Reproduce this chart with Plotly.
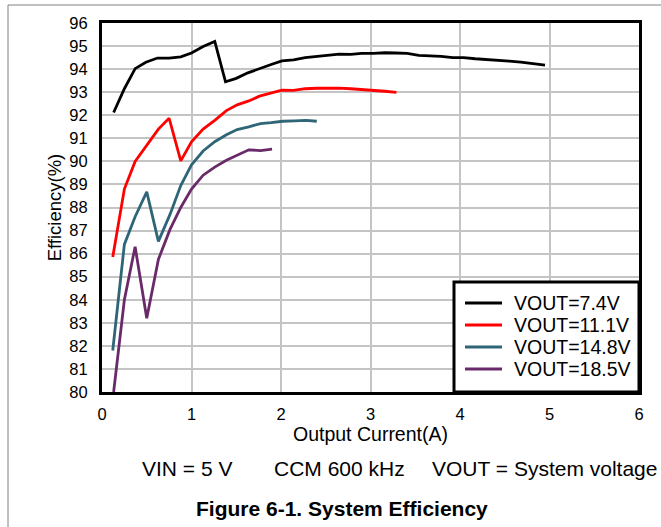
import plotly.graph_objects as go

# ---- data ----
series_names = ["VOUT=7.4V", "VOUT=11.1V", "VOUT=14.8V", "VOUT=18.5V"]
series_colors = ["#000000", "#ff0000", "#2e6577", "#6a2a6a"]

x_74 = [0.13, 0.25, 0.37, 0.49, 0.62, 0.75, 0.88, 1.0, 1.13, 1.26, 1.38, 1.5, 1.63, 1.76, 1.89,
        2.01, 2.14, 2.27, 2.4, 2.52, 2.65, 2.78, 2.9, 3.03, 3.16, 3.28, 3.41, 3.54, 3.66, 3.79,
        3.92, 4.04, 4.17, 4.3, 4.42, 4.55, 4.68, 4.81, 4.95]
y_74 = [92.12, 93.15, 94.02, 94.3, 94.48, 94.48, 94.53, 94.7, 94.98, 95.2, 93.45, 93.6, 93.84,
        94.03, 94.2, 94.36, 94.4, 94.5, 94.55, 94.6, 94.65, 94.64, 94.68, 94.68, 94.71, 94.7,
        94.68, 94.6, 94.58, 94.55, 94.5, 94.5, 94.45, 94.42, 94.38, 94.35, 94.3, 94.24, 94.17]

x_111 = [0.12, 0.25, 0.37, 0.5, 0.63, 0.75, 0.88, 1.0, 1.13, 1.26, 1.39, 1.51, 1.64, 1.76, 1.89,
         2.01, 2.14, 2.27, 2.4, 2.52, 2.65, 2.78, 2.9, 3.03, 3.16, 3.29]
y_111 = [85.85, 88.8, 90.0, 90.7, 91.4, 91.87, 90.02, 90.85, 91.4, 91.78, 92.2, 92.45, 92.62,
         92.83, 92.97, 93.09, 93.08, 93.15, 93.17, 93.18, 93.18, 93.15, 93.12, 93.08, 93.04, 92.99]

x_148 = [0.12, 0.25, 0.37, 0.5, 0.63, 0.76, 0.88, 1.0, 1.13, 1.26, 1.39, 1.51, 1.64, 1.77, 1.89,
         2.02, 2.15, 2.28, 2.4]
y_148 = [81.8, 86.4, 87.6, 88.68, 86.53, 87.7, 88.95, 89.85, 90.45, 90.85, 91.15, 91.38, 91.5,
         91.64, 91.68, 91.74, 91.76, 91.78, 91.74]

x_185 = [0.13, 0.25, 0.37, 0.5, 0.63, 0.76, 0.88, 1.0, 1.13, 1.26, 1.39, 1.51, 1.64, 1.77, 1.9]
y_185 = [80.0, 84.0, 86.3, 83.2, 85.75, 87.05, 88.0, 88.8, 89.4, 89.75, 90.05, 90.27, 90.5,
         90.47, 90.53]

x_ticks = [0, 1, 2, 3, 4, 5, 6]
y_ticks = list(range(80, 97))

x_title = "Output Current(A)"
y_title = "Efficiency(%)"
caption_parts = ["VIN = 5 V", "CCM 600 kHz", "VOUT = System voltage"]
figure_title = "Figure 6-1. System Efficiency"

# ---- figure ----
FONT = "Liberation Sans, Arial, sans-serif"
W, H = 661, 527
ML, MR, MT, MB = 102, 22, 23, 135
PW, PH = W - ML - MR, H - MT - MB


def px_x(p):
    return (p - ML) / PW


def px_y(p):
    return (H - MB - p) / PH


fig = go.Figure()
for xs, ys, name, col in zip([x_74, x_111, x_148, x_185], [y_74, y_111, y_148, y_185],
                             series_names, series_colors):
    fig.add_trace(go.Scatter(x=xs, y=ys, mode="lines", name=name,
                             line=dict(color=col, width=2.8), showlegend=False))

axis_common = dict(showline=True, mirror=True, linecolor="black", linewidth=3,
                   showgrid=True, gridcolor="#c4c4c4", gridwidth=1.5, zeroline=False,
                   ticks="", tickfont=dict(family=FONT, size=16.5, color="black"))

fig.update_xaxes(range=[0, 6], tickvals=x_ticks, ticktext=[str(v) for v in x_ticks],
                 ticklabelstandoff=5,
                 title=dict(text=x_title, font=dict(family=FONT, size=19.5, color="black"),
                            standoff=5),
                 **axis_common)
fig.update_yaxes(range=[80, 96], tickvals=y_ticks, ticktext=[str(v) for v in y_ticks],
                 ticklabelstandoff=8,
                 title=dict(text=y_title, font=dict(family=FONT, size=18.5, color="black"),
                            standoff=3),
                 **axis_common)

annotations = []
for txt, left in zip(caption_parts, [140, 272, 430]):
    annotations.append(dict(text=txt, xref="paper", yref="paper", x=px_x(left), y=px_y(469),
                            xanchor="left", yanchor="middle", showarrow=False,
                            font=dict(family=FONT, size=21, color="black")))
annotations.append(dict(text="<b>" + figure_title + "</b>", xref="paper", yref="paper",
                        x=px_x(342), y=px_y(508), xanchor="center", yanchor="middle",
                        showarrow=False, font=dict(family=FONT, size=21, color="black")))

shapes = [dict(type="rect", xref="paper", yref="paper",
               x0=px_x(8), x1=px_x(700), y0=px_y(560), y1=px_y(5),
               line=dict(color="#808080", width=1), fillcolor="rgba(0,0,0,0)",
               layer="below")]

# legend box (drawn as layout decoration, entries from the series lists)
shapes.append(dict(type="rect", xref="paper", yref="paper",
                   x0=px_x(454), x1=1, y0=0, y1=px_y(282),
                   line=dict(color="black", width=3), fillcolor="white", layer="above"))
row_y = [303, 325, 347, 369]
for name, col, ry in zip(series_names, series_colors, row_y):
    shapes.append(dict(type="line", xref="paper", yref="paper",
                       x0=px_x(465), x1=px_x(502), y0=px_y(ry), y1=px_y(ry),
                       line=dict(color=col, width=3), layer="above"))
    annotations.append(dict(text=name, xref="paper", yref="paper", x=px_x(512), y=px_y(ry),
                            xanchor="left", yanchor="middle", showarrow=False,
                            font=dict(family=FONT, size=19.5, color="black")))

fig.update_layout(
    width=W, height=H,
    margin=dict(l=ML, r=MR, t=MT, b=MB, autoexpand=False),
    paper_bgcolor="white", plot_bgcolor="white",
    showlegend=False,
    annotations=annotations,
    shapes=shapes,
)

fig.write_html("out.html")
